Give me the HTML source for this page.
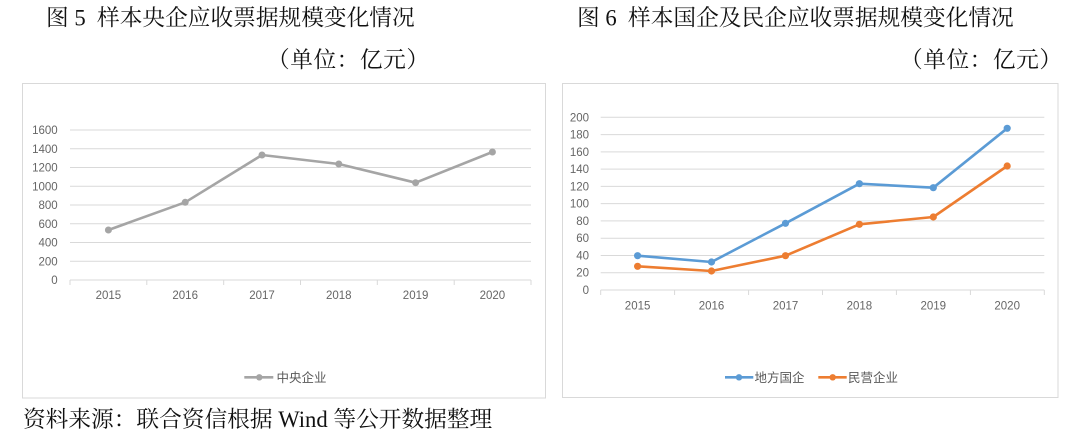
<!DOCTYPE html>
<html>
<head>
<meta charset="utf-8">
<style>
  html,body{margin:0;padding:0;background:#fff;}
  svg{display:block;}
  .t{font-family:"Liberation Serif","Noto Serif CJK SC",serif;fill:#111;}
  .ax{font-family:"Liberation Sans","Noto Sans CJK SC",sans-serif;font-size:11.5px;fill:#666;}
  .lg{font-family:"Liberation Sans","Noto Sans CJK SC",sans-serif;font-size:12.5px;fill:#595959;}
</style>
</head>
<body>
<svg width="1080" height="437" viewBox="0 0 1080 437" xmlns="http://www.w3.org/2000/svg">
  <rect width="1080" height="437" fill="#fff"/>

  <!-- Titles -->
  <text class="t" x="46" y="25.5" font-size="22.7" xml:space="preserve">图 5  样本央企应收票据规模变化情况</text>
  <text class="t" x="267" y="67.5" font-size="22.7" textLength="162" lengthAdjust="spacing">（单位：亿元）</text>
  <text class="t" x="577" y="25.5" font-size="22.7" xml:space="preserve">图 6  样本国企及民企应收票据规模变化情况</text>
  <text class="t" x="900" y="67.5" font-size="22.7" textLength="162" lengthAdjust="spacing">（单位：亿元）</text>

  <!-- Footer -->
  <text class="t" x="23" y="427" font-size="22.7">资料来源：联合资信根据 Wind 等公开数据整理</text>

  <!-- ===== Left chart ===== -->
  <rect x="22.5" y="83.5" width="523" height="314.5" fill="#fff" stroke="#d9d9d9" stroke-width="1"/>
  <g stroke="#d9d9d9" stroke-width="1">
    <line x1="70" y1="130" x2="531" y2="130"/>
    <line x1="70" y1="148.75" x2="531" y2="148.75"/>
    <line x1="70" y1="167.5" x2="531" y2="167.5"/>
    <line x1="70" y1="186.25" x2="531" y2="186.25"/>
    <line x1="70" y1="205" x2="531" y2="205"/>
    <line x1="70" y1="223.75" x2="531" y2="223.75"/>
    <line x1="70" y1="242.5" x2="531" y2="242.5"/>
    <line x1="70" y1="261.25" x2="531" y2="261.25"/>
    <line x1="70" y1="280" x2="531" y2="280"/>
    <line x1="70" y1="280" x2="70" y2="285"/>
    <line x1="146.8" y1="280" x2="146.8" y2="285"/>
    <line x1="223.7" y1="280" x2="223.7" y2="285"/>
    <line x1="300.5" y1="280" x2="300.5" y2="285"/>
    <line x1="377.3" y1="280" x2="377.3" y2="285"/>
    <line x1="454.2" y1="280" x2="454.2" y2="285"/>
    <line x1="531" y1="280" x2="531" y2="285"/>
  </g>
  <g class="ax" text-anchor="end">
    <text x="57.7" y="134">1600</text>
    <text x="57.7" y="152.75">1400</text>
    <text x="57.7" y="171.5">1200</text>
    <text x="57.7" y="190.25">1000</text>
    <text x="57.7" y="209">800</text>
    <text x="57.7" y="227.75">600</text>
    <text x="57.7" y="246.5">400</text>
    <text x="57.7" y="265.25">200</text>
    <text x="57.7" y="284">0</text>
  </g>
  <g class="ax" text-anchor="middle">
    <text x="108.4" y="299">2015</text>
    <text x="185.2" y="299">2016</text>
    <text x="262" y="299">2017</text>
    <text x="338.8" y="299">2018</text>
    <text x="415.6" y="299">2019</text>
    <text x="492.4" y="299">2020</text>
  </g>
  <polyline points="108.4,230 185.2,202.3 262,155 338.8,164 415.6,182.7 492.4,152" fill="none" stroke="#a5a5a5" stroke-width="2.6" stroke-linejoin="round"/>
  <g fill="#a5a5a5">
    <circle cx="108.4" cy="230" r="3.5"/>
    <circle cx="185.2" cy="202.3" r="3.5"/>
    <circle cx="262" cy="155" r="3.5"/>
    <circle cx="338.8" cy="164" r="3.5"/>
    <circle cx="415.6" cy="182.7" r="3.5"/>
    <circle cx="492.4" cy="152" r="3.5"/>
  </g>
  <!-- legend -->
  <line x1="244.3" y1="377.3" x2="273.3" y2="377.3" stroke="#a5a5a5" stroke-width="2.6"/>
  <circle cx="259.3" cy="377.3" r="3.2" fill="#a5a5a5"/>
  <text class="lg" x="276.5" y="382">中央企业</text>

  <!-- ===== Right chart ===== -->
  <rect x="562.5" y="83.5" width="495.5" height="314" fill="#fff" stroke="#d9d9d9" stroke-width="1"/>
  <g stroke="#d9d9d9" stroke-width="1">
    <line x1="600.7" y1="117.3" x2="1044.3" y2="117.3"/>
    <line x1="600.7" y1="134.57" x2="1044.3" y2="134.57"/>
    <line x1="600.7" y1="151.84" x2="1044.3" y2="151.84"/>
    <line x1="600.7" y1="169.11" x2="1044.3" y2="169.11"/>
    <line x1="600.7" y1="186.38" x2="1044.3" y2="186.38"/>
    <line x1="600.7" y1="203.65" x2="1044.3" y2="203.65"/>
    <line x1="600.7" y1="220.92" x2="1044.3" y2="220.92"/>
    <line x1="600.7" y1="238.19" x2="1044.3" y2="238.19"/>
    <line x1="600.7" y1="255.46" x2="1044.3" y2="255.46"/>
    <line x1="600.7" y1="272.73" x2="1044.3" y2="272.73"/>
    <line x1="600.7" y1="290" x2="1044.3" y2="290"/>
    <line x1="600.7" y1="290" x2="600.7" y2="295"/>
    <line x1="674.6" y1="290" x2="674.6" y2="295"/>
    <line x1="748.6" y1="290" x2="748.6" y2="295"/>
    <line x1="822.5" y1="290" x2="822.5" y2="295"/>
    <line x1="896.4" y1="290" x2="896.4" y2="295"/>
    <line x1="970.4" y1="290" x2="970.4" y2="295"/>
    <line x1="1044.3" y1="290" x2="1044.3" y2="295"/>
  </g>
  <g class="ax" text-anchor="end">
    <text x="589" y="121.3">200</text>
    <text x="589" y="138.57">180</text>
    <text x="589" y="155.84">160</text>
    <text x="589" y="173.11">140</text>
    <text x="589" y="190.38">120</text>
    <text x="589" y="207.65">100</text>
    <text x="589" y="224.92">80</text>
    <text x="589" y="242.19">60</text>
    <text x="589" y="259.46">40</text>
    <text x="589" y="276.73">20</text>
    <text x="589" y="294">0</text>
  </g>
  <g class="ax" text-anchor="middle">
    <text x="637.6" y="309.3">2015</text>
    <text x="711.5" y="309.3">2016</text>
    <text x="785.5" y="309.3">2017</text>
    <text x="859.4" y="309.3">2018</text>
    <text x="933.3" y="309.3">2019</text>
    <text x="1007.2" y="309.3">2020</text>
  </g>
  <polyline points="637.6,255.7 711.5,262 785.5,223.3 859.4,183.7 933.3,187.7 1007.2,128.3" fill="none" stroke="#5b9bd5" stroke-width="2.6" stroke-linejoin="round"/>
  <g fill="#5b9bd5">
    <circle cx="637.6" cy="255.7" r="3.6"/>
    <circle cx="711.5" cy="262" r="3.6"/>
    <circle cx="785.5" cy="223.3" r="3.6"/>
    <circle cx="859.4" cy="183.7" r="3.6"/>
    <circle cx="933.3" cy="187.7" r="3.6"/>
    <circle cx="1007.2" cy="128.3" r="3.6"/>
  </g>
  <polyline points="637.6,266.3 711.5,271 785.5,255.7 859.4,224.3 933.3,217 1007.2,166" fill="none" stroke="#ed7d31" stroke-width="2.6" stroke-linejoin="round"/>
  <g fill="#ed7d31">
    <circle cx="637.6" cy="266.3" r="3.6"/>
    <circle cx="711.5" cy="271" r="3.6"/>
    <circle cx="785.5" cy="255.7" r="3.6"/>
    <circle cx="859.4" cy="224.3" r="3.6"/>
    <circle cx="933.3" cy="217" r="3.6"/>
    <circle cx="1007.2" cy="166" r="3.6"/>
  </g>
  <!-- legend -->
  <line x1="725" y1="377.3" x2="753.3" y2="377.3" stroke="#5b9bd5" stroke-width="2.6"/>
  <circle cx="739" cy="377.3" r="3.2" fill="#5b9bd5"/>
  <text class="lg" x="754.5" y="382">地方国企</text>
  <line x1="818.3" y1="377.3" x2="846.7" y2="377.3" stroke="#ed7d31" stroke-width="2.6"/>
  <circle cx="832.7" cy="377.3" r="3.2" fill="#ed7d31"/>
  <text class="lg" x="848" y="382">民营企业</text>
</svg>
</body>
</html>
